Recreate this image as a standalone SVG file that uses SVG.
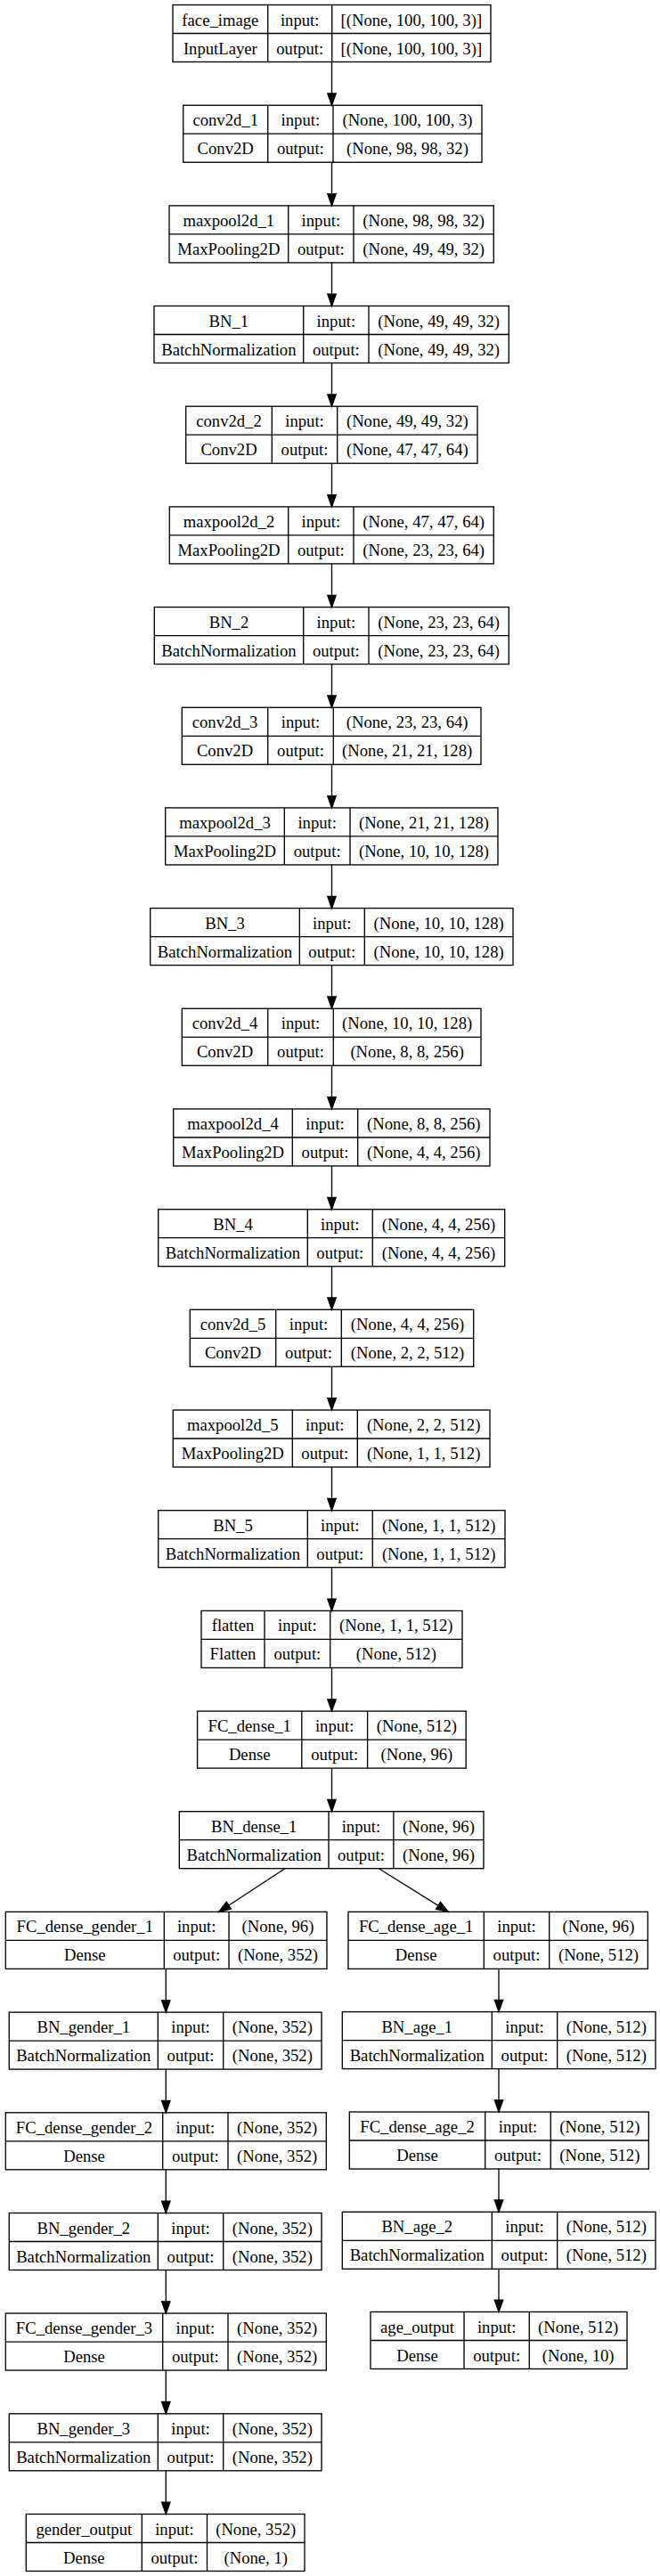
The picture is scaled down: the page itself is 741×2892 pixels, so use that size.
<svg xmlns="http://www.w3.org/2000/svg" width="741" height="2892" viewBox="0 0 741 2892">
<defs>
<style>
rect{fill:#fff;stroke:#000;stroke-width:1.33}
.d{fill:none;stroke:#000;stroke-width:1.33}
text{font-family:"Liberation Serif","Times New Roman",serif;font-size:18.67px;text-anchor:middle;fill:#000}
.e{fill:none;stroke:#000;stroke-width:1.33;marker-end:url(#ah)}
</style>
<marker id="ah" markerUnits="userSpaceOnUse" viewBox="0 0 13.3 9.4" refX="13.3" refY="4.7" markerWidth="13.3" markerHeight="9.4" orient="auto" overflow="visible">
<path d="M0,0L13.3,4.7L0,9.4Z" fill="#000" stroke="#000" stroke-width="1.33"/>
</marker>
</defs>
<rect x="0" y="0" width="741" height="2892" style="fill:#fff;stroke:none"/>

<g id="face_image" transform="translate(0,5.5)">
<rect x="194" y="0" width="357" height="64"/>
<path class="d" d="M194,32H551M300.7,0V64M372.7,0V64"/>
<text x="247.35" y="23">face_image</text><text x="247.35" y="55">InputLayer</text>
<text x="336.7" y="23">input:</text><text x="336.7" y="55">output:</text>
<text x="461.85" y="23">[(None, 100, 100, 3)]</text><text x="461.85" y="55">[(None, 100, 100, 3)]</text>
</g>

<g id="conv2d_1" transform="translate(0,118.2)">
<rect x="205.7" y="0" width="335.3" height="64"/>
<path class="d" d="M205.7,32H541M300.7,0V64M374,0V64"/>
<text x="253.2" y="23">conv2d_1</text><text x="253.2" y="55">Conv2D</text>
<text x="337.35" y="23">input:</text><text x="337.35" y="55">output:</text>
<text x="457.5" y="23">(None, 100, 100, 3)</text><text x="457.5" y="55">(None, 98, 98, 32)</text>
</g>

<g id="maxpool2d_1" transform="translate(0,230.9)">
<rect x="190" y="0" width="364.3" height="64"/>
<path class="d" d="M190,32H554.3M323.7,0V64M397,0V64"/>
<text x="256.85" y="23">maxpool2d_1</text><text x="256.85" y="55">MaxPooling2D</text>
<text x="360.35" y="23">input:</text><text x="360.35" y="55">output:</text>
<text x="475.65" y="23">(None, 98, 98, 32)</text><text x="475.65" y="55">(None, 49, 49, 32)</text>
</g>

<g id="BN_1" transform="translate(0,343.5)">
<rect x="173" y="0" width="398.3" height="64"/>
<path class="d" d="M173,32H571.3M340.7,0V64M414,0V64"/>
<text x="256.85" y="23">BN_1</text><text x="256.85" y="55">BatchNormalization</text>
<text x="377.35" y="23">input:</text><text x="377.35" y="55">output:</text>
<text x="492.65" y="23">(None, 49, 49, 32)</text><text x="492.65" y="55">(None, 49, 49, 32)</text>
</g>

<g id="conv2d_2" transform="translate(0,456.2)">
<rect x="208.7" y="0" width="327.3" height="64"/>
<path class="d" d="M208.7,32H536M305.3,0V64M378.7,0V64"/>
<text x="257" y="23">conv2d_2</text><text x="257" y="55">Conv2D</text>
<text x="342" y="23">input:</text><text x="342" y="55">output:</text>
<text x="457.35" y="23">(None, 49, 49, 32)</text><text x="457.35" y="55">(None, 47, 47, 64)</text>
</g>

<g id="maxpool2d_2" transform="translate(0,568.9)">
<rect x="190.3" y="0" width="364" height="64"/>
<path class="d" d="M190.3,32H554.3M323.7,0V64M397,0V64"/>
<text x="257" y="23">maxpool2d_2</text><text x="257" y="55">MaxPooling2D</text>
<text x="360.35" y="23">input:</text><text x="360.35" y="55">output:</text>
<text x="475.65" y="23">(None, 47, 47, 64)</text><text x="475.65" y="55">(None, 23, 23, 64)</text>
</g>

<g id="BN_2" transform="translate(0,681.6)">
<rect x="173.3" y="0" width="398" height="64"/>
<path class="d" d="M173.3,32H571.3M340.7,0V64M414,0V64"/>
<text x="257" y="23">BN_2</text><text x="257" y="55">BatchNormalization</text>
<text x="377.35" y="23">input:</text><text x="377.35" y="55">output:</text>
<text x="492.65" y="23">(None, 23, 23, 64)</text><text x="492.65" y="55">(None, 23, 23, 64)</text>
</g>

<g id="conv2d_3" transform="translate(0,794.3)">
<rect x="204.3" y="0" width="335.7" height="64"/>
<path class="d" d="M204.3,32H540M300.7,0V64M374.3,0V64"/>
<text x="252.5" y="23">conv2d_3</text><text x="252.5" y="55">Conv2D</text>
<text x="337.5" y="23">input:</text><text x="337.5" y="55">output:</text>
<text x="457.15" y="23">(None, 23, 23, 64)</text><text x="457.15" y="55">(None, 21, 21, 128)</text>
</g>

<g id="maxpool2d_3" transform="translate(0,906.9)">
<rect x="185.7" y="0" width="373.3" height="64"/>
<path class="d" d="M185.7,32H559M319.3,0V64M393,0V64"/>
<text x="252.5" y="23">maxpool2d_3</text><text x="252.5" y="55">MaxPooling2D</text>
<text x="356.15" y="23">input:</text><text x="356.15" y="55">output:</text>
<text x="476" y="23">(None, 21, 21, 128)</text><text x="476" y="55">(None, 10, 10, 128)</text>
</g>

<g id="BN_3" transform="translate(0,1019.6)">
<rect x="168.7" y="0" width="407.3" height="64"/>
<path class="d" d="M168.7,32H576M336.3,0V64M409.3,0V64"/>
<text x="252.5" y="23">BN_3</text><text x="252.5" y="55">BatchNormalization</text>
<text x="372.8" y="23">input:</text><text x="372.8" y="55">output:</text>
<text x="492.65" y="23">(None, 10, 10, 128)</text><text x="492.65" y="55">(None, 10, 10, 128)</text>
</g>

<g id="conv2d_4" transform="translate(0,1132.3)">
<rect x="204.3" y="0" width="335.7" height="64"/>
<path class="d" d="M204.3,32H540M300.7,0V64M374.3,0V64"/>
<text x="252.5" y="23">conv2d_4</text><text x="252.5" y="55">Conv2D</text>
<text x="337.5" y="23">input:</text><text x="337.5" y="55">output:</text>
<text x="457.15" y="23">(None, 10, 10, 128)</text><text x="457.15" y="55">(None, 8, 8, 256)</text>
</g>

<g id="maxpool2d_4" transform="translate(0,1245)">
<rect x="194.7" y="0" width="355.3" height="64"/>
<path class="d" d="M194.7,32H550M328.3,0V64M401.7,0V64"/>
<text x="261.5" y="23">maxpool2d_4</text><text x="261.5" y="55">MaxPooling2D</text>
<text x="365" y="23">input:</text><text x="365" y="55">output:</text>
<text x="475.85" y="23">(None, 8, 8, 256)</text><text x="475.85" y="55">(None, 4, 4, 256)</text>
</g>

<g id="BN_4" transform="translate(0,1357.7)">
<rect x="177.7" y="0" width="389" height="64"/>
<path class="d" d="M177.7,32H566.7M345.3,0V64M418.3,0V64"/>
<text x="261.5" y="23">BN_4</text><text x="261.5" y="55">BatchNormalization</text>
<text x="381.8" y="23">input:</text><text x="381.8" y="55">output:</text>
<text x="492.5" y="23">(None, 4, 4, 256)</text><text x="492.5" y="55">(None, 4, 4, 256)</text>
</g>

<g id="conv2d_5" transform="translate(0,1470.3)">
<rect x="213.3" y="0" width="318.4" height="64"/>
<path class="d" d="M213.3,32H531.7M309.7,0V64M383.3,0V64"/>
<text x="261.5" y="23">conv2d_5</text><text x="261.5" y="55">Conv2D</text>
<text x="346.5" y="23">input:</text><text x="346.5" y="55">output:</text>
<text x="457.5" y="23">(None, 4, 4, 256)</text><text x="457.5" y="55">(None, 2, 2, 512)</text>
</g>

<g id="maxpool2d_5" transform="translate(0,1583)">
<rect x="194.3" y="0" width="355.7" height="64"/>
<path class="d" d="M194.3,32H550M328.3,0V64M401.3,0V64"/>
<text x="261.3" y="23">maxpool2d_5</text><text x="261.3" y="55">MaxPooling2D</text>
<text x="364.8" y="23">input:</text><text x="364.8" y="55">output:</text>
<text x="475.65" y="23">(None, 2, 2, 512)</text><text x="475.65" y="55">(None, 1, 1, 512)</text>
</g>

<g id="BN_5" transform="translate(0,1695.7)">
<rect x="177.7" y="0" width="389.3" height="64"/>
<path class="d" d="M177.7,32H567M345.3,0V64M418.3,0V64"/>
<text x="261.5" y="23">BN_5</text><text x="261.5" y="55">BatchNormalization</text>
<text x="381.8" y="23">input:</text><text x="381.8" y="55">output:</text>
<text x="492.65" y="23">(None, 1, 1, 512)</text><text x="492.65" y="55">(None, 1, 1, 512)</text>
</g>

<g id="flatten" transform="translate(0,1808.4)">
<rect x="226" y="0" width="293" height="64"/>
<path class="d" d="M226,32H519M297,0V64M370.7,0V64"/>
<text x="261.5" y="23">flatten</text><text x="261.5" y="55">Flatten</text>
<text x="333.85" y="23">input:</text><text x="333.85" y="55">output:</text>
<text x="444.85" y="23">(None, 1, 1, 512)</text><text x="444.85" y="55">(None, 512)</text>
</g>

<g id="FC_dense_1" transform="translate(0,1921.1)">
<rect x="221.6" y="0" width="301.6" height="64"/>
<path class="d" d="M221.6,32H523.2M338.8,0V64M412.6,0V64"/>
<text x="280.2" y="23">FC_dense_1</text><text x="280.2" y="55">Dense</text>
<text x="375.7" y="23">input:</text><text x="375.7" y="55">output:</text>
<text x="467.9" y="23">(None, 512)</text><text x="467.9" y="55">(None, 96)</text>
</g>

<g id="BN_dense_1" transform="translate(0,2033.7)">
<rect x="201.3" y="0" width="341.7" height="64"/>
<path class="d" d="M201.3,32H543M369,0V64M441.9,0V64"/>
<text x="285.15" y="23">BN_dense_1</text><text x="285.15" y="55">BatchNormalization</text>
<text x="405.45" y="23">input:</text><text x="405.45" y="55">output:</text>
<text x="492.45" y="23">(None, 96)</text><text x="492.45" y="55">(None, 96)</text>
</g>

<g id="FC_dense_gender_1" transform="translate(0,2146.4)">
<rect x="6.3" y="0" width="360.7" height="64"/>
<path class="d" d="M6.3,32H367M184.3,0V64M257,0V64"/>
<text x="95.3" y="23">FC_dense_gender_1</text><text x="95.3" y="55">Dense</text>
<text x="220.65" y="23">input:</text><text x="220.65" y="55">output:</text>
<text x="312" y="23">(None, 96)</text><text x="312" y="55">(None, 352)</text>
</g>

<g id="BN_gender_1" transform="translate(0,2259.1)">
<rect x="10.3" y="0" width="350.7" height="64"/>
<path class="d" d="M10.3,32H361M177.3,0V64M250.7,0V64"/>
<text x="93.8" y="23">BN_gender_1</text><text x="93.8" y="55">BatchNormalization</text>
<text x="214" y="23">input:</text><text x="214" y="55">output:</text>
<text x="305.85" y="23">(None, 352)</text><text x="305.85" y="55">(None, 352)</text>
</g>

<g id="FC_dense_gender_2" transform="translate(0,2371.8)">
<rect x="6.3" y="0" width="360" height="64"/>
<path class="d" d="M6.3,32H366.3M182.7,0V64M256,0V64"/>
<text x="94.5" y="23">FC_dense_gender_2</text><text x="94.5" y="55">Dense</text>
<text x="219.35" y="23">input:</text><text x="219.35" y="55">output:</text>
<text x="311.15" y="23">(None, 352)</text><text x="311.15" y="55">(None, 352)</text>
</g>

<g id="BN_gender_2" transform="translate(0,2484.5)">
<rect x="10.3" y="0" width="350.7" height="64"/>
<path class="d" d="M10.3,32H361M177.3,0V64M250.7,0V64"/>
<text x="93.8" y="23">BN_gender_2</text><text x="93.8" y="55">BatchNormalization</text>
<text x="214" y="23">input:</text><text x="214" y="55">output:</text>
<text x="305.85" y="23">(None, 352)</text><text x="305.85" y="55">(None, 352)</text>
</g>

<g id="FC_dense_gender_3" transform="translate(0,2597.1)">
<rect x="6.3" y="0" width="360" height="64"/>
<path class="d" d="M6.3,32H366.3M182.7,0V64M256,0V64"/>
<text x="94.5" y="23">FC_dense_gender_3</text><text x="94.5" y="55">Dense</text>
<text x="219.35" y="23">input:</text><text x="219.35" y="55">output:</text>
<text x="311.15" y="23">(None, 352)</text><text x="311.15" y="55">(None, 352)</text>
</g>

<g id="BN_gender_3" transform="translate(0,2709.8)">
<rect x="10.3" y="0" width="350.7" height="64"/>
<path class="d" d="M10.3,32H361M177.3,0V64M250.7,0V64"/>
<text x="93.8" y="23">BN_gender_3</text><text x="93.8" y="55">BatchNormalization</text>
<text x="214" y="23">input:</text><text x="214" y="55">output:</text>
<text x="305.85" y="23">(None, 352)</text><text x="305.85" y="55">(None, 352)</text>
</g>

<g id="gender_output" transform="translate(0,2822.5)">
<rect x="29.3" y="0" width="312.7" height="64"/>
<path class="d" d="M29.3,32H342M159.3,0V64M232.5,0V64"/>
<text x="94.3" y="23">gender_output</text><text x="94.3" y="55">Dense</text>
<text x="195.9" y="23">input:</text><text x="195.9" y="55">output:</text>
<text x="287.25" y="23">(None, 352)</text><text x="287.25" y="55">(None, 1)</text>
</g>

<g id="FC_dense_age_1" transform="translate(0,2146.4)">
<rect x="391" y="0" width="336.3" height="64"/>
<path class="d" d="M391,32H727.3M543.3,0V64M616.7,0V64"/>
<text x="467.15" y="23">FC_dense_age_1</text><text x="467.15" y="55">Dense</text>
<text x="580" y="23">input:</text><text x="580" y="55">output:</text>
<text x="672" y="23">(None, 96)</text><text x="672" y="55">(None, 512)</text>
</g>

<g id="BN_age_1" transform="translate(0,2258.6)">
<rect x="384.3" y="0" width="351.7" height="64"/>
<path class="d" d="M384.3,32H736M552.3,0V64M625.7,0V64"/>
<text x="468.3" y="23">BN_age_1</text><text x="468.3" y="55">BatchNormalization</text>
<text x="589" y="23">input:</text><text x="589" y="55">output:</text>
<text x="680.85" y="23">(None, 512)</text><text x="680.85" y="55">(None, 512)</text>
</g>

<g id="FC_dense_age_2" transform="translate(0,2371)">
<rect x="392.3" y="0" width="336" height="64"/>
<path class="d" d="M392.3,32H728.3M544.7,0V64M618.3,0V64"/>
<text x="468.5" y="23">FC_dense_age_2</text><text x="468.5" y="55">Dense</text>
<text x="581.5" y="23">input:</text><text x="581.5" y="55">output:</text>
<text x="673.3" y="23">(None, 512)</text><text x="673.3" y="55">(None, 512)</text>
</g>

<g id="BN_age_2" transform="translate(0,2483.3)">
<rect x="384.3" y="0" width="351.7" height="64"/>
<path class="d" d="M384.3,32H736M552.3,0V64M625.7,0V64"/>
<text x="468.3" y="23">BN_age_2</text><text x="468.3" y="55">BatchNormalization</text>
<text x="589" y="23">input:</text><text x="589" y="55">output:</text>
<text x="680.85" y="23">(None, 512)</text><text x="680.85" y="55">(None, 512)</text>
</g>

<g id="age_output" transform="translate(0,2595.5)">
<rect x="416" y="0" width="288" height="64"/>
<path class="d" d="M416,32H704M521,0V64M594.3,0V64"/>
<text x="468.5" y="23">age_output</text><text x="468.5" y="55">Dense</text>
<text x="557.65" y="23">input:</text><text x="557.65" y="55">output:</text>
<text x="649.15" y="23">(None, 512)</text><text x="649.15" y="55">(None, 10)</text>
</g>

<g id="connectors">
<path class="e" d="M372.5,69.5V118.2"/>
<path class="e" d="M372.5,182.2V230.9"/>
<path class="e" d="M372.5,294.9V343.5"/>
<path class="e" d="M372.5,407.5V456.2"/>
<path class="e" d="M372.5,520.2V568.9"/>
<path class="e" d="M372.5,632.9V681.6"/>
<path class="e" d="M372.5,745.6V794.3"/>
<path class="e" d="M372.5,858.3V906.9"/>
<path class="e" d="M372.5,970.9V1019.6"/>
<path class="e" d="M372.5,1083.6V1132.3"/>
<path class="e" d="M372.5,1196.3V1245"/>
<path class="e" d="M372.5,1309V1357.7"/>
<path class="e" d="M372.5,1421.7V1470.3"/>
<path class="e" d="M372.5,1534.3V1583"/>
<path class="e" d="M372.5,1647V1695.7"/>
<path class="e" d="M372.5,1759.7V1808.4"/>
<path class="e" d="M372.5,1872.4V1921.1"/>
<path class="e" d="M372.5,1985.1V2033.7"/>
<path class="e" d="M320,2097.7L245.7,2146.4"/>
<path class="e" d="M425.3,2097.7L503.3,2146.4"/>
<path class="e" d="M186.3,2210.4V2259.1"/>
<path class="e" d="M186.3,2323.1V2371.8"/>
<path class="e" d="M186.3,2435.8V2484.5"/>
<path class="e" d="M186.3,2548.5V2597.1"/>
<path class="e" d="M186.3,2661.1V2709.8"/>
<path class="e" d="M186.3,2773.8V2822.5"/>
<path class="e" d="M560,2210.4V2258.6"/>
<path class="e" d="M560,2322.6V2371"/>
<path class="e" d="M560,2435V2483.3"/>
<path class="e" d="M560,2547.3V2595.5"/>
</g>
</svg>
